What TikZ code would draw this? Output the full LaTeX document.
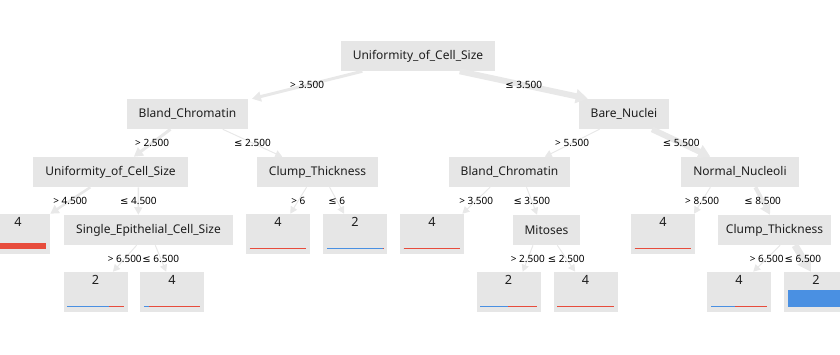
\documentclass[tikz,border=0pt]{standalone}
\usepackage{fontspec}
\setmainfont{Noto Sans}
\newfontfamily\symfont{DejaVu Sans}
\usetikzlibrary{arrows.meta,calc}

\definecolor{boxgray}{HTML}{E6E6E6}
\definecolor{edgegray}{HTML}{E8E8E8}
\definecolor{benign}{HTML}{4A90E2}
\definecolor{malign}{HTML}{E74C3C}
\definecolor{inkgray}{HTML}{1E1E1E}

\newcommand{\lesym}{{\symfont ≤}}

% class bar at the foot of a leaf: #1 node, #2 share of class 2, #3 height
\newcommand{\leafbar}[3]{%
  \fill[benign] ($(#1.south west)+(4,-5)$) rectangle ($(#1.south west)+(4+56*#2,-5-#3)$);
  \fill[malign] ($(#1.south west)+(4+56*#2,-5)$) rectangle ($(#1.south east)+(-4,-5-#3)$);
}

\begin{document}
\begin{tikzpicture}[x=0.75pt,y=-0.75pt,
    splitnode/.style={fill=boxgray, inner sep=0pt, minimum height=22.5pt,
      minimum width=#1*0.75pt, text=inkgray, font=\fontsize{9}{11}\selectfont},
    leafnode/.style={fill=boxgray, inner sep=0pt, minimum height=30pt,
      minimum width=48pt, label={[leafnum]north:#1}},
    leafnum/.style={anchor=north, inner sep=2.5pt, text=inkgray,
      font=\fontsize{9.5}{11}\selectfont},
    flow/.style={draw=edgegray, line width=#1*0.75pt,
      -{Triangle[length=4.5pt 1, width=4.5pt 1.3]}},
    cond/.style={midway, inner sep=0pt, text=black,
      font=\fontsize{7.5}{9}\selectfont}]
  \clip (0,0) rectangle (840,354);

  % split nodes, level by level
  \node[splitnode=154] (root)   at (418,56)   {Uniformity\_of\_Cell\_Size};
  \node[splitnode=121] (blandL) at (187.5,114) {Bland\_Chromatin};
  \node[splitnode=90]  (bare)   at (624,114)  {Bare\_Nuclei};
  \node[splitnode=155] (unifL)  at (110.5,172) {Uniformity\_of\_Cell\_Size};
  \node[splitnode=121] (clumpL) at (317.5,172) {Clump\_Thickness};
  \node[splitnode=121] (blandR) at (509.5,172) {Bland\_Chromatin};
  \node[splitnode=118] (normal) at (740,172)  {Normal\_Nucleoli};
  \node[splitnode=169] (epith)  at (148.5,230) {Single\_Epithelial\_Cell\_Size};
  \node[splitnode=67]  (mitos)  at (546.5,230) {Mitoses};
  \node[splitnode=113] (clumpR) at (774.5,230) {Clump\_Thickness};

  % leaves
  \node[leafnode=4] (leafA) at (18,234)  {};
  \node[leafnode=4] (leafB) at (278,234) {};
  \node[leafnode=2] (leafC) at (355,234) {};
  \node[leafnode=4] (leafD) at (432,234) {};
  \node[leafnode=4] (leafE) at (663,234) {};
  \node[leafnode=2] (leafF) at (95.5,292) {};
  \node[leafnode=4] (leafG) at (172,292) {};
  \node[leafnode=2] (leafH) at (508.5,292) {};
  \node[leafnode=4] (leafI) at (585.5,292) {};
  \node[leafnode=4] (leafJ) at (739,292) {};
  \node[leafnode=2] (leafK) at (816,292) {};

  \leafbar{leafA}{0}{6}
  \leafbar{leafB}{0}{1}
  \leafbar{leafC}{1}{1}
  \leafbar{leafD}{0}{1}
  \leafbar{leafE}{0}{1}
  \leafbar{leafF}{0.75}{1}
  \leafbar{leafG}{0.09}{1.2}
  \leafbar{leafH}{0.5}{1}
  \leafbar{leafI}{0}{1}
  \leafbar{leafJ}{0.43}{1}
  \leafbar{leafK}{1}{17}

  % branches: width / parent / start / child / end / test
  \foreach \w/\p/\s/\c/\e/\t in {
      3/root/.14/blandL/1.03/{> 3.500},
      6/root/.77/bare/.10/{\lesym{} 3.500},
      3/blandL/.36/unifL/.65/{> 2.500},
      1/blandL/.79/clumpL/.21/{\lesym{} 2.500},
      1/bare/.23/blandR/.79/{> 5.500},
      6/bare/.81/normal/.25/{\lesym{} 5.500},
      2.5/unifL/.37/leafA/1/{> 4.500},
      1.5/unifL/.68/epith/.44/{\lesym{} 4.500},
      1/clumpL/.41/leafB/.69/{> 6},
      1/clumpL/.60/leafC/.33/{\lesym{} 6},
      1/blandR/.34/leafD/.97/{> 3.500},
      1/blandR/.64/mitos/.36/{\lesym{} 3.500},
      1/normal/.25/leafE/.98/{> 8.500},
      4/normal/.63/clumpR/.46/{\lesym{} 8.500},
      1/epith/.43/leafF/.77/{> 6.500},
      1/epith/.54/leafG/.41/{\lesym{} 6.500},
      1/mitos/.30/leafH/.72/{> 2.500},
      1/mitos/.66/leafI/.34/{\lesym{} 2.500},
      1/clumpR/.55/leafJ/.72/{> 6.500},
      7/clumpR/.68/leafK/.42/{\lesym{} 6.500}}
    \draw[flow=\w] ($(\p.south west)!\s!(\p.south east)$)
      -- ($(\c.north west)!\e!(\c.north east)$) node[cond] {\t};
\end{tikzpicture}
\end{document}
